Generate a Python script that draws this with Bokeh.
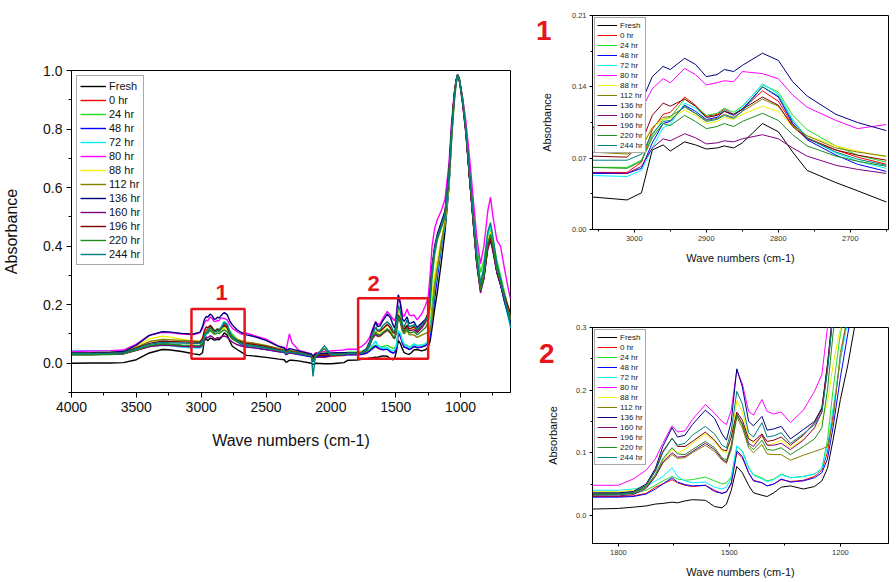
from bokeh.plotting import figure
from bokeh.layouts import row, column
from bokeh.models import (FixedTicker, PrintfTickFormatter, Range1d, Legend,
                          LegendItem, Label, LinearAxis)
from bokeh.embed import file_html
from bokeh.resources import INLINE

FONT = "Liberation Sans"

labels = ["Fresh", "0 hr", "24 hr", "48 hr", "72 hr", "80 hr", "88 hr",
          "112 hr", "136 hr", "160 hr", "196 hr", "220 hr", "244 hr"]
colors = ["#000000", "#ff0000", "#22dd22", "#0000ff", "#00f0ff", "#ff00ff",
          "#f0f000", "#808000", "#000080", "#800080", "#800000", "#1e8c1e", "#008080"]

# ---- main spectrum, 4000-3080 cm-1 ----
wn_a = [4000, 3850, 3700, 3600, 3500, 3400, 3300, 3250, 3150, 3080]
abs_a = [
    [0.000, 0.001, 0.001, 0.002, 0.012, 0.035, 0.047, 0.046, 0.040, 0.034],
    [0.030, 0.030, 0.031, 0.032, 0.044, 0.057, 0.062, 0.061, 0.058, 0.056],
    [0.030, 0.030, 0.031, 0.033, 0.046, 0.060, 0.066, 0.065, 0.062, 0.061],
    [0.031, 0.031, 0.032, 0.033, 0.045, 0.058, 0.063, 0.062, 0.057, 0.055],
    [0.042, 0.043, 0.043, 0.044, 0.050, 0.058, 0.061, 0.060, 0.055, 0.053],
    [0.040, 0.042, 0.043, 0.045, 0.065, 0.095, 0.106, 0.105, 0.100, 0.098],
    [0.035, 0.036, 0.038, 0.040, 0.058, 0.083, 0.092, 0.090, 0.082, 0.077],
    [0.034, 0.035, 0.037, 0.038, 0.054, 0.074, 0.081, 0.080, 0.078, 0.076],
    [0.035, 0.036, 0.038, 0.040, 0.062, 0.095, 0.108, 0.107, 0.102, 0.100],
    [0.030, 0.030, 0.031, 0.032, 0.045, 0.057, 0.062, 0.061, 0.058, 0.056],
    [0.033, 0.034, 0.035, 0.037, 0.052, 0.068, 0.075, 0.074, 0.073, 0.072],
    [0.029, 0.029, 0.030, 0.032, 0.045, 0.060, 0.066, 0.065, 0.062, 0.061],
    [0.033, 0.033, 0.034, 0.036, 0.050, 0.065, 0.071, 0.070, 0.069, 0.068],
]

# ---- region 1 (C-H stretch), 3060-2650 cm-1 ----
wn_p1 = [3060, 3010, 2990, 2975, 2960, 2950, 2930, 2915, 2900, 2885,
         2875, 2862, 2850, 2822, 2800, 2780, 2760, 2720, 2690, 2650]
abs_p1 = [
    [0.032, 0.029, 0.036, 0.078, 0.083, 0.077, 0.086, 0.083, 0.079, 0.080, 0.082, 0.080, 0.085, 0.104, 0.096, 0.076, 0.058, 0.046, 0.038, 0.027],
    [0.056, 0.056, 0.066, 0.098, 0.113, 0.115, 0.130, 0.122, 0.111, 0.113, 0.118, 0.113, 0.118, 0.136, 0.126, 0.103, 0.090, 0.078, 0.071, 0.064],
    [0.061, 0.061, 0.068, 0.092, 0.108, 0.110, 0.128, 0.121, 0.112, 0.114, 0.119, 0.115, 0.121, 0.142, 0.135, 0.112, 0.098, 0.082, 0.073, 0.066],
    [0.055, 0.055, 0.060, 0.085, 0.104, 0.106, 0.122, 0.116, 0.108, 0.110, 0.116, 0.112, 0.118, 0.140, 0.130, 0.104, 0.088, 0.073, 0.064, 0.057],
    [0.053, 0.052, 0.058, 0.080, 0.100, 0.103, 0.124, 0.119, 0.110, 0.112, 0.117, 0.113, 0.120, 0.143, 0.133, 0.108, 0.090, 0.075, 0.067, 0.060],
    [0.098, 0.104, 0.118, 0.138, 0.148, 0.144, 0.158, 0.152, 0.142, 0.144, 0.146, 0.145, 0.155, 0.153, 0.148, 0.132, 0.120, 0.107, 0.099, 0.103],
    [0.076, 0.075, 0.082, 0.100, 0.108, 0.109, 0.117, 0.112, 0.104, 0.106, 0.110, 0.108, 0.113, 0.121, 0.116, 0.101, 0.092, 0.082, 0.077, 0.071],
    [0.076, 0.074, 0.080, 0.100, 0.110, 0.111, 0.120, 0.114, 0.107, 0.109, 0.113, 0.110, 0.116, 0.128, 0.121, 0.102, 0.092, 0.080, 0.076, 0.072],
    [0.100, 0.106, 0.125, 0.150, 0.160, 0.157, 0.168, 0.162, 0.150, 0.152, 0.157, 0.155, 0.161, 0.173, 0.166, 0.145, 0.131, 0.113, 0.105, 0.097],
    [0.056, 0.055, 0.062, 0.080, 0.089, 0.087, 0.094, 0.090, 0.084, 0.085, 0.087, 0.086, 0.089, 0.093, 0.089, 0.080, 0.072, 0.063, 0.059, 0.055],
    [0.072, 0.071, 0.085, 0.112, 0.124, 0.121, 0.128, 0.121, 0.110, 0.112, 0.116, 0.113, 0.118, 0.130, 0.122, 0.101, 0.089, 0.078, 0.073, 0.068],
    [0.061, 0.060, 0.067, 0.090, 0.104, 0.102, 0.112, 0.106, 0.099, 0.101, 0.104, 0.101, 0.106, 0.114, 0.107, 0.093, 0.082, 0.072, 0.067, 0.062],
    [0.068, 0.068, 0.074, 0.094, 0.106, 0.107, 0.121, 0.114, 0.106, 0.108, 0.112, 0.109, 0.116, 0.140, 0.131, 0.106, 0.090, 0.076, 0.069, 0.063],
]

# ---- main spectrum, 2600-1900 cm-1 ----
wn_b = [2600, 2500, 2400, 2360, 2345, 2320, 2300, 2250, 2150, 2138, 2120, 2050, 2000, 1950, 1900]
abs_b = [
    [0.025, 0.020, 0.014, 0.012, 0.003, 0.010, 0.010, 0.008, 0.000, -0.005, 0.000, -0.002, -0.002, 0.000, 0.002],
    [0.060, 0.052, 0.042, 0.040, 0.032, 0.038, 0.036, 0.032, 0.022, 0.010, 0.020, 0.020, 0.024, 0.025, 0.026],
    [0.062, 0.054, 0.044, 0.042, 0.034, 0.040, 0.038, 0.034, 0.025, 0.015, 0.024, 0.040, 0.028, 0.030, 0.030],
    [0.054, 0.047, 0.039, 0.037, 0.029, 0.035, 0.034, 0.030, 0.022, 0.005, 0.022, 0.022, 0.026, 0.027, 0.028],
    [0.057, 0.050, 0.042, 0.041, 0.033, 0.040, 0.039, 0.036, 0.028, 0.018, 0.028, 0.030, 0.032, 0.033, 0.034],
    [0.096, 0.082, 0.058, 0.054, 0.045, 0.100, 0.070, 0.045, 0.032, 0.025, 0.035, 0.040, 0.042, 0.044, 0.045],
    [0.068, 0.060, 0.049, 0.046, 0.038, 0.044, 0.042, 0.038, 0.030, 0.020, 0.030, 0.030, 0.032, 0.033, 0.034],
    [0.069, 0.061, 0.050, 0.047, 0.039, 0.045, 0.043, 0.039, 0.029, 0.018, 0.029, 0.028, 0.030, 0.031, 0.032],
    [0.092, 0.078, 0.057, 0.052, 0.044, 0.050, 0.048, 0.042, 0.031, 0.022, 0.032, 0.033, 0.035, 0.036, 0.036],
    [0.053, 0.047, 0.040, 0.038, 0.030, 0.036, 0.034, 0.031, 0.025, 0.012, 0.024, 0.026, 0.028, 0.029, 0.030],
    [0.065, 0.057, 0.046, 0.043, 0.035, 0.041, 0.039, 0.035, 0.027, 0.015, 0.027, 0.027, 0.029, 0.030, 0.031],
    [0.059, 0.052, 0.043, 0.041, 0.033, 0.039, 0.037, 0.033, 0.025, 0.008, 0.025, 0.050, 0.028, 0.029, 0.030],
    [0.060, 0.053, 0.044, 0.042, 0.034, 0.040, 0.038, 0.034, 0.026, -0.045, 0.020, 0.060, 0.030, 0.031, 0.032],
]

# ---- region 2 (fingerprint), 1870-1070 cm-1 ----
wn_p2 = [1870, 1800, 1760, 1725, 1700, 1680, 1655, 1640, 1620, 1600,
         1565, 1540, 1520, 1508, 1495, 1480, 1465, 1448, 1435, 1412,
         1398, 1380, 1360, 1335, 1300, 1270, 1250, 1235, 1220, 1200,
         1180, 1150, 1120, 1090, 1070]
abs_p2 = [
    [0.010, 0.011, 0.013, 0.015, 0.018, 0.019, 0.021, 0.020, 0.023, 0.025, 0.024, 0.014, 0.012, 0.018, 0.040, 0.078, 0.068, 0.048, 0.036, 0.032, 0.030, 0.036, 0.045, 0.047, 0.042, 0.046, 0.055, 0.075, 0.120, 0.185, 0.240, 0.340, 0.450, 0.600, 0.760],
    [0.030, 0.030, 0.031, 0.035, 0.045, 0.050, 0.057, 0.052, 0.048, 0.046, 0.048, 0.040, 0.035, 0.038, 0.050, 0.100, 0.092, 0.068, 0.056, 0.052, 0.047, 0.050, 0.057, 0.054, 0.056, 0.062, 0.072, 0.100, 0.160, 0.250, 0.320, 0.410, 0.480, 0.620, 0.780],
    [0.032, 0.033, 0.035, 0.040, 0.048, 0.055, 0.062, 0.058, 0.056, 0.057, 0.061, 0.055, 0.050, 0.052, 0.062, 0.110, 0.102, 0.076, 0.065, 0.060, 0.055, 0.058, 0.066, 0.060, 0.062, 0.066, 0.075, 0.120, 0.200, 0.290, 0.340, 0.410, 0.470, 0.600, 0.760],
    [0.029, 0.029, 0.030, 0.034, 0.042, 0.050, 0.060, 0.053, 0.049, 0.047, 0.048, 0.038, 0.035, 0.037, 0.052, 0.103, 0.094, 0.068, 0.055, 0.052, 0.047, 0.050, 0.058, 0.053, 0.055, 0.060, 0.068, 0.090, 0.140, 0.220, 0.290, 0.390, 0.470, 0.610, 0.770],
    [0.040, 0.040, 0.042, 0.046, 0.055, 0.062, 0.076, 0.062, 0.055, 0.052, 0.053, 0.045, 0.042, 0.045, 0.060, 0.111, 0.103, 0.076, 0.064, 0.058, 0.054, 0.057, 0.065, 0.060, 0.062, 0.066, 0.075, 0.110, 0.170, 0.250, 0.310, 0.400, 0.475, 0.610, 0.770],
    [0.048, 0.048, 0.058, 0.072, 0.090, 0.115, 0.143, 0.133, 0.135, 0.153, 0.177, 0.163, 0.150, 0.145, 0.168, 0.232, 0.210, 0.166, 0.160, 0.185, 0.166, 0.162, 0.165, 0.148, 0.168, 0.198, 0.225, 0.300, 0.400, 0.460, 0.490, 0.520, 0.560, 0.680, 0.820],
    [0.038, 0.038, 0.040, 0.048, 0.065, 0.088, 0.105, 0.100, 0.105, 0.115, 0.130, 0.118, 0.102, 0.100, 0.125, 0.183, 0.165, 0.125, 0.115, 0.125, 0.112, 0.115, 0.120, 0.108, 0.122, 0.138, 0.150, 0.180, 0.240, 0.300, 0.350, 0.420, 0.490, 0.620, 0.780],
    [0.035, 0.035, 0.037, 0.045, 0.062, 0.083, 0.097, 0.091, 0.092, 0.100, 0.112, 0.102, 0.088, 0.083, 0.105, 0.157, 0.140, 0.108, 0.100, 0.113, 0.098, 0.097, 0.097, 0.088, 0.096, 0.102, 0.106, 0.110, 0.150, 0.260, 0.320, 0.410, 0.480, 0.610, 0.770],
    [0.036, 0.036, 0.038, 0.050, 0.075, 0.110, 0.140, 0.125, 0.128, 0.145, 0.168, 0.155, 0.130, 0.120, 0.150, 0.234, 0.205, 0.150, 0.143, 0.158, 0.136, 0.138, 0.142, 0.122, 0.137, 0.150, 0.172, 0.240, 0.330, 0.400, 0.440, 0.480, 0.520, 0.650, 0.800],
    [0.031, 0.031, 0.033, 0.043, 0.062, 0.085, 0.100, 0.093, 0.094, 0.102, 0.115, 0.105, 0.090, 0.085, 0.110, 0.162, 0.146, 0.115, 0.110, 0.128, 0.112, 0.112, 0.115, 0.105, 0.120, 0.140, 0.165, 0.235, 0.320, 0.390, 0.430, 0.470, 0.510, 0.640, 0.790],
    [0.034, 0.034, 0.036, 0.048, 0.072, 0.102, 0.123, 0.110, 0.110, 0.118, 0.133, 0.120, 0.105, 0.103, 0.125, 0.165, 0.152, 0.122, 0.118, 0.130, 0.118, 0.120, 0.125, 0.112, 0.128, 0.148, 0.170, 0.240, 0.320, 0.390, 0.430, 0.470, 0.510, 0.640, 0.790],
    [0.033, 0.033, 0.035, 0.045, 0.065, 0.090, 0.108, 0.098, 0.097, 0.105, 0.118, 0.108, 0.092, 0.088, 0.112, 0.160, 0.145, 0.112, 0.105, 0.120, 0.105, 0.104, 0.108, 0.097, 0.110, 0.122, 0.140, 0.200, 0.290, 0.370, 0.420, 0.460, 0.500, 0.630, 0.780],
    [0.034, 0.034, 0.036, 0.048, 0.070, 0.100, 0.123, 0.112, 0.115, 0.128, 0.142, 0.130, 0.112, 0.108, 0.135, 0.198, 0.178, 0.132, 0.125, 0.148, 0.125, 0.127, 0.132, 0.115, 0.130, 0.145, 0.165, 0.230, 0.320, 0.390, 0.430, 0.470, 0.510, 0.640, 0.790],
]

# ---- main spectrum, 1050-615 cm-1 ----
wn_c = [1050, 1035, 1023, 1010, 985, 960, 930, 900, 875, 846,
        820, 790, 769, 750, 720, 692, 660, 630, 615]
abs_c = [
    [0.900, 0.960, 0.985, 0.975, 0.900, 0.800, 0.630, 0.470, 0.340, 0.250, 0.300, 0.400, 0.430, 0.390, 0.310, 0.270, 0.210, 0.160, 0.140],
    [0.910, 0.965, 0.985, 0.970, 0.900, 0.800, 0.640, 0.480, 0.350, 0.260, 0.310, 0.420, 0.450, 0.400, 0.320, 0.280, 0.220, 0.170, 0.150],
    [0.880, 0.950, 0.980, 0.975, 0.910, 0.820, 0.670, 0.520, 0.400, 0.310, 0.350, 0.440, 0.460, 0.420, 0.350, 0.300, 0.240, 0.180, 0.160],
    [0.900, 0.960, 0.985, 0.970, 0.900, 0.800, 0.630, 0.480, 0.350, 0.260, 0.300, 0.410, 0.440, 0.400, 0.320, 0.270, 0.210, 0.160, 0.140],
    [0.900, 0.960, 0.985, 0.970, 0.900, 0.810, 0.650, 0.500, 0.370, 0.280, 0.320, 0.430, 0.470, 0.420, 0.330, 0.280, 0.210, 0.150, 0.120],
    [0.920, 0.960, 0.980, 0.970, 0.910, 0.830, 0.700, 0.550, 0.430, 0.340, 0.400, 0.520, 0.567, 0.500, 0.420, 0.400, 0.320, 0.250, 0.220],
    [0.900, 0.960, 0.985, 0.970, 0.900, 0.800, 0.640, 0.490, 0.360, 0.270, 0.310, 0.420, 0.450, 0.400, 0.330, 0.280, 0.220, 0.170, 0.150],
    [0.890, 0.955, 0.980, 0.970, 0.900, 0.800, 0.640, 0.490, 0.360, 0.260, 0.300, 0.410, 0.440, 0.400, 0.320, 0.280, 0.220, 0.170, 0.150],
    [0.910, 0.965, 0.985, 0.970, 0.890, 0.790, 0.630, 0.470, 0.340, 0.250, 0.290, 0.400, 0.430, 0.390, 0.310, 0.270, 0.210, 0.160, 0.140],
    [0.910, 0.965, 0.985, 0.970, 0.890, 0.790, 0.630, 0.470, 0.340, 0.240, 0.290, 0.390, 0.420, 0.380, 0.310, 0.270, 0.220, 0.170, 0.150],
    [0.910, 0.965, 0.985, 0.970, 0.900, 0.800, 0.630, 0.480, 0.350, 0.250, 0.300, 0.400, 0.430, 0.390, 0.320, 0.280, 0.230, 0.190, 0.170],
    [0.900, 0.960, 0.985, 0.970, 0.900, 0.800, 0.640, 0.480, 0.350, 0.250, 0.300, 0.410, 0.440, 0.400, 0.320, 0.280, 0.220, 0.170, 0.150],
    [0.900, 0.960, 0.985, 0.970, 0.900, 0.810, 0.650, 0.500, 0.370, 0.270, 0.330, 0.450, 0.480, 0.430, 0.340, 0.290, 0.220, 0.160, 0.130],
]

# ---- ticks ----
main_x_ticks = [4000, 3500, 3000, 2500, 2000, 1500, 1000]
main_x_minor = [3750, 3250, 2750, 2250, 1750, 1250, 750]
main_y_ticks = [0.0, 0.2, 0.4, 0.6, 0.8, 1.0]
main_y_minor = [-0.1, 0.1, 0.3, 0.5, 0.7, 0.9]
p1_x_ticks = [3000, 2900, 2800, 2700]
p1_x_minor = [3050, 2950, 2850, 2750, 2650]
p1_y_ticks = [0.0, 0.07, 0.14, 0.21]
p1_y_minor = [0.035, 0.105, 0.175]
p2_x_ticks = [1800, 1500, 1200]
p2_x_minor = [1650, 1350]
p2_y_ticks = [0.0, 0.1, 0.2, 0.3]
p2_y_minor = [-0.05, 0.05, 0.15, 0.25]

# highlighted regions on the main spectrum
box_left = [3075, 1790]
box_right = [2665, 1250]
box_bottom = [0.015, 0.015]
box_top = [0.185, 0.222]
box_names = ["1", "2"]

RED = "#e8141c"


def make_fig(w, h, xr, yr, bl, br, bt, bb):
    p = figure(width=w, height=h, x_range=Range1d(*xr), y_range=Range1d(*yr),
               output_backend="svg", toolbar_location=None,
               min_border_left=bl, min_border_right=br,
               min_border_top=bt, min_border_bottom=bb)
    p.grid.visible = False
    p.outline_line_color = "black"
    p.outline_line_alpha = 1
    p.outline_line_width = 1
    p.background_fill_color = "white"
    p.border_fill_color = "white"
    return p


def style_axis(ax, ticks, minor, fmt, tick_size, tick_color, label, label_size,
               standoff, tick_out, minor_out, label_standoff):
    ax.ticker = FixedTicker(ticks=ticks, minor_ticks=minor)
    ax.formatter = PrintfTickFormatter(format=fmt)
    ax.major_label_text_font = FONT
    ax.major_label_text_font_size = tick_size
    ax.major_label_text_color = tick_color
    ax.major_label_standoff = label_standoff
    ax.axis_label = label
    ax.axis_label_text_font = FONT
    ax.axis_label_text_font_size = label_size
    ax.axis_label_text_font_style = "normal"
    ax.axis_label_text_color = "#111111"
    ax.axis_label_standoff = standoff
    ax.major_tick_in = 0
    ax.major_tick_out = tick_out
    ax.minor_tick_in = 0
    ax.minor_tick_out = minor_out
    ax.axis_line_color = "black"
    ax.major_tick_line_color = "black"
    ax.minor_tick_line_color = "black"


# ---------------- main panel ----------------
pm = make_fig(528, 580, (4000, 615), (-0.1, 1.0), 71, 18, 70, 188)
style_axis(pm.xaxis[0], main_x_ticks, main_x_minor, "%d", "14px", "#111111",
           "Wave numbers (cm-1)", "16px", 17, 5, 3, 4)
style_axis(pm.yaxis[0], main_y_ticks, main_y_minor, "%.1f", "14px", "#111111",
           "Absorbance", "16px", 20, 5, 3, 4)

wn_main = wn_a + wn_p1 + wn_b + wn_p2 + wn_c
main_rs = []
for i in range(len(labels)):
    y = abs_a[i] + abs_p1[i] + abs_b[i] + abs_p2[i] + abs_c[i]
    r = pm.line(wn_main, y, line_color=colors[i], line_width=1.4)
    main_rs.append(r)

pm.quad(left=box_left, right=box_right, bottom=box_bottom, top=box_top,
        fill_alpha=0, line_color=RED, line_width=2.5)
pm.add_layout(Label(x=2843, y=0.242, text=box_names[0], text_color=RED,
                    text_font=FONT, text_font_size="22px", text_font_style="bold",
                    text_align="center", text_baseline="middle"))
pm.add_layout(Label(x=1671, y=0.273, text=box_names[1], text_color=RED,
                    text_font=FONT, text_font_size="22px", text_font_style="bold",
                    text_align="center", text_baseline="middle"))

leg_m = Legend(items=[LegendItem(label=labels[i], renderers=[main_rs[i]])
                      for i in range(len(labels))],
               location="top_left", label_text_font=FONT,
               label_text_font_size="11px", label_text_color="#111111",
               glyph_width=26, glyph_height=14, label_height=14,
               spacing=0, padding=3, margin=5, label_standoff=3,
               border_line_color="#555555", border_line_width=1,
               background_fill_alpha=1)
pm.add_layout(leg_m)


def zoom_panel(h, xr, yr, bl, bt, bb, wn, data, xt, xm, yt, ym, yfmt,
               tag, tag_y, tag_standoff, xstand, ystand):
    p = make_fig(366, h, xr, yr, bl, 6, bt, bb)
    style_axis(p.xaxis[0], xt, xm, "%d", "7.5px", "#333333",
               "Wave numbers (cm-1)", "11px", xstand, 3, 2, 3)
    style_axis(p.yaxis[0], yt, ym, yfmt, "7.5px", "#333333",
               "Absorbance", "11px", ystand, 3, 2, 3)
    rs = []
    for i in range(len(labels)):
        rs.append(p.line(wn, data[i], line_color=colors[i], line_width=1.0))
    leg = Legend(items=[LegendItem(label=labels[i], renderers=[rs[i]])
                        for i in range(len(labels))],
                 location="top_left", label_text_font=FONT,
                 label_text_font_size="8px", label_text_color="#222222",
                 glyph_width=20, glyph_height=10, label_height=10,
                 spacing=0, padding=2, margin=2, label_standoff=3,
                 border_line_color="#555555", border_line_width=1,
                 background_fill_alpha=1)
    p.add_layout(leg)
    # big red region tag, drawn as the single label of an outer left axis
    tag_axis = LinearAxis(ticker=FixedTicker(ticks=[tag_y], minor_ticks=[]),
                          major_label_overrides={tag_y: tag},
                          major_label_text_color=RED,
                          major_label_text_font=FONT,
                          major_label_text_font_size="28px",
                          major_label_text_font_style="bold",
                          major_label_standoff=tag_standoff,
                          major_tick_line_color=None,
                          minor_tick_line_color=None,
                          axis_line_color=None)
    p.add_layout(tag_axis, "left")
    return p


p1 = zoom_panel(296, (3058, 2647), (0.0, 0.21), 63, 15, 67, wn_p1, abs_p1,
                p1_x_ticks, p1_x_minor, p1_y_ticks, p1_y_minor, "%.2f",
                "1", 0.195, -20, 8, 16)
p2 = zoom_panel(284, (1870, 1070), (-0.045, 0.3), 64, 31, 34, wn_p2, abs_p2,
                p2_x_ticks, p2_x_minor, p2_y_ticks, p2_y_minor, "%.1f",
                "2", 0.259, -16, 8, 14)

layout = row(pm, column(p1, p2))
open("out.html", "w").write(file_html(layout, INLINE))
